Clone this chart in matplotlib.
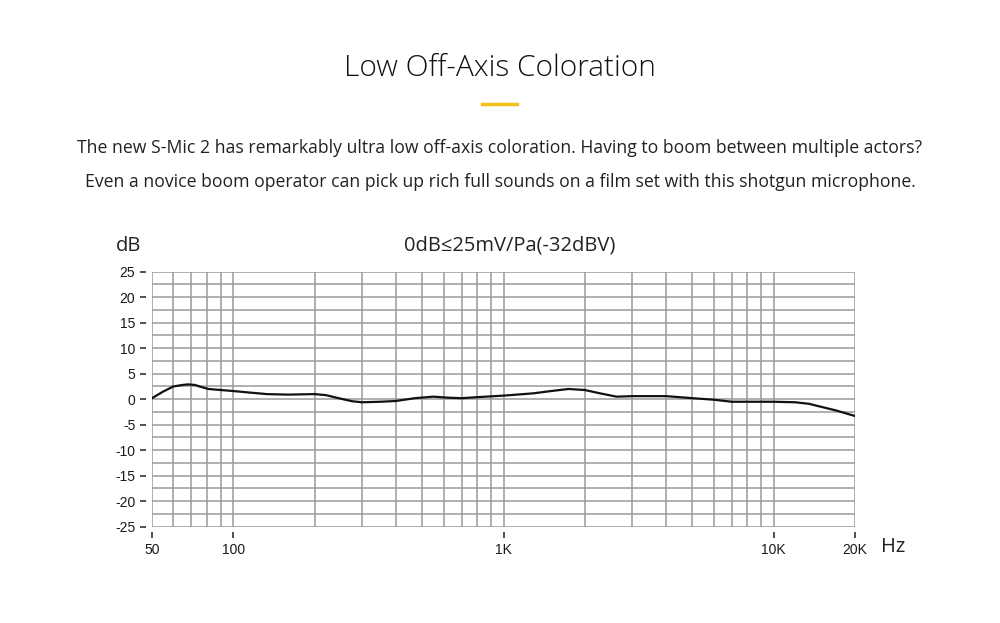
import numpy as np
import matplotlib
matplotlib.use("Agg")
from matplotlib import pyplot as plt

# frequency response
freq = [50, 55, 60, 65, 68, 72, 76, 81, 90, 100, 115, 133, 160, 200, 220, 250, 275, 300,
        350, 400, 470, 550, 620, 700, 800, 1000, 1290, 1500, 1740, 2000, 2300, 2620,
        3000, 4000, 5000, 6000, 7000, 8500, 10000, 12000, 13500, 15000, 17000, 20000]
level = [0.2, 1.5, 2.5, 2.8, 2.9, 2.8, 2.4, 2.0, 1.8, 1.6, 1.3, 1.0, 0.9, 1.0, 0.8, 0.1, -0.4, -0.6,
         -0.5, -0.35, 0.2, 0.5, 0.3, 0.2, 0.4, 0.7, 1.15, 1.6, 2.0, 1.8, 1.1, 0.5,
         0.6, 0.6, 0.2, -0.1, -0.5, -0.5, -0.5, -0.6, -0.9, -1.5, -2.2, -3.3]

grid_freqs = [60, 70, 80, 90, 100, 200, 300, 400, 500, 600, 700, 800, 900,
              1000, 2000, 3000, 4000, 5000, 6000, 7000, 8000, 9000, 10000]
xticks = [50, 100, 1000, 10000, 20000]
xlabels = ["50", "100", "1K", "10K", "20K"]
yticks = [25, 20, 15, 10, 5, 0, -5, -10, -15, -20, -25]

title = "Low Off-Axis Coloration"
para = ["The new S-Mic 2 has remarkably ultra low off-axis coloration. Having to boom between multiple actors?",
        "Even a novice boom operator can pick up rich full sounds on a film set with this shotgun microphone."]
note = "0dB\u226425mV/Pa(-32dBV)"

fig = plt.figure(figsize=(10, 6.23), dpi=100)
fig.patch.set_facecolor("white")

fig.text(0.5, 1 - 68 / 623, title, ha="center", va="center", fontsize=21.5,
         family="Open Sans", fontweight="light", color="#111111")
fig.add_artist(plt.Line2D([482 / 1000, 517 / 1000], [1 - 104 / 623] * 2, color="#f5c21b", lw=2.5))
for i, line in enumerate(para):
    fig.text(0.5, 1 - (148 + 34 * i) / 623, line, ha="center", va="center", fontsize=12.7,
             family="Open Sans", color="#222222")

ax = fig.add_axes([0.152, 1 - 526.7 / 623, 0.703, 255 / 623])
ax.set_xscale("log")
ax.set_xlim(50, 20000)
ax.set_ylim(-25, 25)

gcol = "#9a9a9a"
ax.hlines(np.arange(-25, 25.1, 2.5), 50, 20000, color=gcol, lw=1.1, zorder=1)
ax.vlines(grid_freqs + [50, 20000], -25, 25, color=gcol, lw=1.1, zorder=1)

ax.plot(freq, level, color="#111111", lw=1.6, zorder=3)

for s in ax.spines.values():
    s.set_visible(False)
ax.spines["left"].set_position(("outward", 4))
ax.spines["bottom"].set_position(("outward", 4))

ax.set_xticks(xticks)
ax.set_xticklabels(xlabels)
ax.xaxis.set_minor_locator(matplotlib.ticker.NullLocator())
ax.set_yticks(yticks)
ax.set_yticklabels([str(v) for v in yticks])
ax.tick_params(axis="both", length=4, width=1.2, color="#333333", labelsize=10,
               labelcolor="#1a1a1a")
ax.tick_params(axis="x", pad=4)
ax.tick_params(axis="y", pad=4)
for lab in ax.get_xticklabels() + ax.get_yticklabels():
    lab.set_family("Liberation Sans")

fig.text(0.129, 1 - 246 / 623, "dB", ha="center", va="center", fontsize=14.5,
         family="Open Sans", color="#222222")
fig.text(0.893, 1 - 547 / 623, "Hz", ha="center", va="center", fontsize=14.5,
         family="Open Sans", color="#222222")
fig.text(0.510, 1 - 246 / 623, note, ha="center", va="center", fontsize=14.5,
         family="Open Sans", color="#222222")

fig.savefig("out.png", dpi=100, facecolor="white")
